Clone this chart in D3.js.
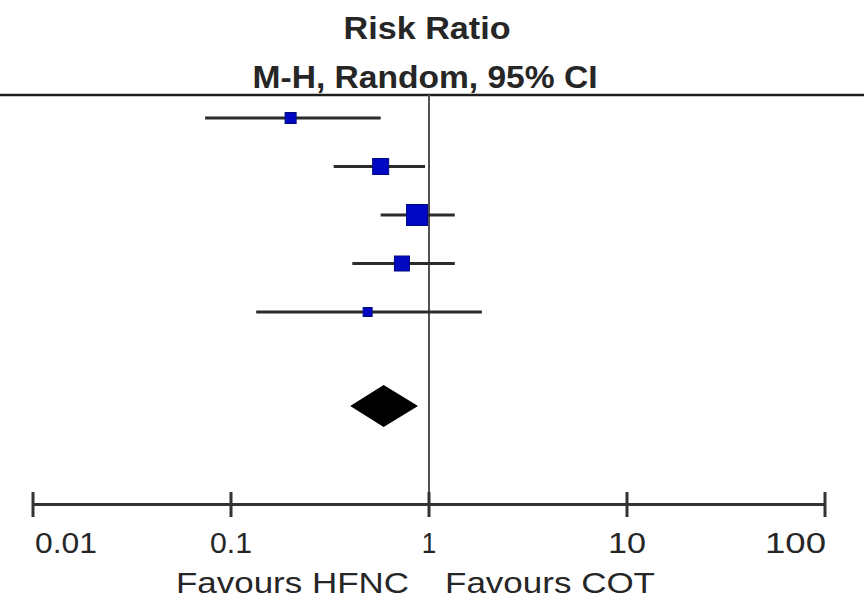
<!DOCTYPE html>
<html>
<head>
<meta charset="utf-8">
<script src="https://cdn.jsdelivr.net/npm/d3@7"></script>
<style>
  html, body { margin: 0; padding: 0; background: #fff; }
  svg { display: block; }
  text { font-family: "Liberation Sans", Arial, sans-serif; fill: #262626; }
</style>
</head>
<body>
<script>
// Study-level risk ratios (HFNC vs COT) with 95% CI and relative weights
const studies = ["Study 1", "Study 2", "Study 3", "Study 4", "Study 5"];
const riskRatio = [0.20, 0.57, 0.87, 0.73, 0.49];
const ciLower  = [0.074, 0.33, 0.57, 0.41, 0.134];
const ciUpper  = [0.57, 0.955, 1.35, 1.35, 1.85];
const weights  = [10.8, 22.8, 39.2, 20.0, 7.2];

// Pooled estimate (random effects)
const pooled = { rr: 0.59, lo: 0.40, hi: 0.88 };

const tickValues = [0.01, 0.1, 1, 10, 100];
const tickLabels = ["0.01", "0.1", "1", "10", "100"];
const tickLabelWidths = [62, 42, null, 38, 61];

const W = 864, H = 601;
const svg = d3.select("body").append("svg").attr("width", W).attr("height", H);

const x = d3.scaleLog().domain([0.01, 100]).range([33, 825]);
const rowY = d3.scalePoint().domain(studies).range([118, 312]);
const pooledY = 406;
const axisY = 504;
const headerLineY = 95;
const side = d3.scaleSqrt().domain([0, d3.max(weights)]).range([0, 21]);

// Text placed at a baseline, fitted to a width and slightly stretched vertically
function label(g, str, px, py, opts) {
  const t = g.append("text")
    .attr("transform", `translate(${px},${py}) scale(1,${opts.sy || 1.1})`)
    .attr("text-anchor", opts.anchor || "middle")
    .attr("font-size", opts.size)
    .attr("font-weight", opts.bold ? "bold" : "normal")
    .text(str);
  if (opts.width) t.attr("textLength", opts.width).attr("lengthAdjust", "spacingAndGlyphs");
  return t;
}

// Header
label(svg, "Risk Ratio", 427, 39, { size: 28, bold: true, width: 167 });
label(svg, "M-H, Random, 95% CI", 425, 88, { size: 29, bold: true, width: 345 });

svg.append("line")
  .attr("x1", 0).attr("x2", W)
  .attr("y1", headerLineY).attr("y2", headerLineY)
  .attr("stroke", "#1e1e1e").attr("stroke-width", 2.5);

// Line of no effect
svg.append("line")
  .attr("x1", x(1)).attr("x2", x(1))
  .attr("y1", headerLineY).attr("y2", axisY)
  .attr("stroke", "#505050").attr("stroke-width", 2);

// Confidence intervals and point estimates
const rows = studies.map((s, i) => ({
  s, rr: riskRatio[i], lo: ciLower[i], hi: ciUpper[i], w: weights[i]
}));

svg.append("g").selectAll("line").data(rows).join("line")
  .attr("x1", d => x(d.lo)).attr("x2", d => x(d.hi))
  .attr("y1", d => rowY(d.s)).attr("y2", d => rowY(d.s))
  .attr("stroke", "#2b2b2b").attr("stroke-width", 3);

svg.append("g").selectAll("rect").data(rows).join("rect")
  .attr("x", d => x(d.rr) - side(d.w) / 2)
  .attr("y", d => rowY(d.s) - side(d.w) / 2)
  .attr("width", d => side(d.w)).attr("height", d => side(d.w))
  .attr("fill", "#0008c4").attr("stroke", "#000a80").attr("stroke-width", 1);

// Pooled diamond
const dh = 21;
svg.append("path")
  .attr("d", `M${x(pooled.lo)},${pooledY} L${x(pooled.rr)},${pooledY - dh} L${x(pooled.hi)},${pooledY} L${x(pooled.rr)},${pooledY + dh} Z`)
  .attr("fill", "#000");

// Axis
const axis = d3.axisBottom(x).tickValues(tickValues).tickSize(0).tickFormat(() => "");
const ag = svg.append("g").attr("transform", `translate(0,${axisY})`).call(axis);
ag.select(".domain").attr("stroke", "#333").attr("stroke-width", 3);

svg.append("g").selectAll("line").data(tickValues).join("line")
  .attr("x1", d => x(d)).attr("x2", d => x(d))
  .attr("y1", axisY - 12).attr("y2", axisY + 13)
  .attr("stroke", "#333").attr("stroke-width", 3);

const tg = svg.append("g");
tickValues.forEach((v, i) => {
  const last = tickValues.length - 1;
  const anchor = i === 0 ? "start" : (i === last ? "end" : "middle");
  const px = x(v) + (i === 0 ? 2 : (i === last ? 1 : 0));
  label(tg, tickLabels[i], px, 553, { size: 26, anchor, width: tickLabelWidths[i], sy: 1.12 });
});

label(svg, "Favours HFNC", 409, 593, { size: 27, anchor: "end", width: 233, sy: 1.12 });
label(svg, "Favours COT", 445, 593, { size: 27, anchor: "start", width: 210, sy: 1.12 });
</script>
</body>
</html>
